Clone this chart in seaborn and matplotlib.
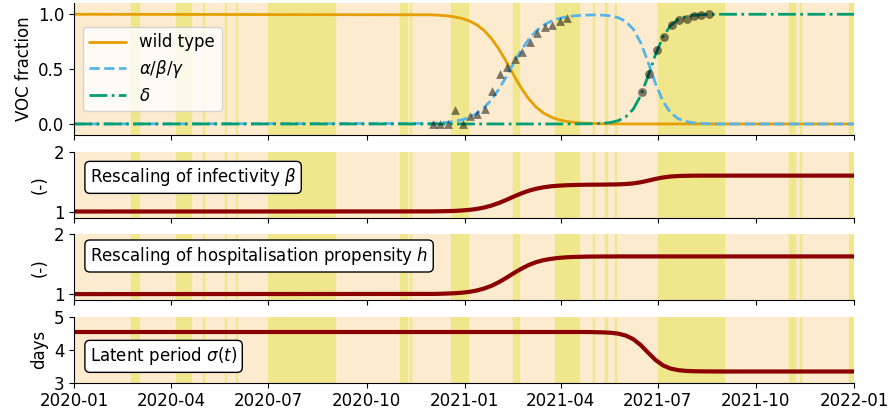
import numpy as np
import pandas as pd
import matplotlib
matplotlib.use("Agg")
import matplotlib.pyplot as plt
import matplotlib.dates as mdates
import seaborn as sns

# ---------------------------------------------------------------- data
# model output sampled weekly from 2020-12-01 to 2021-08-31
model_dates = pd.date_range("2020-12-01", periods=40, freq="7D")

wild_type = [0.995, 0.991, 0.986, 0.977, 0.963, 0.941, 0.906, 0.854, 0.781, 0.684,
             0.569, 0.445, 0.328, 0.229, 0.153, 0.099, 0.063, 0.039, 0.024, 0.015,
             0.009, 0.006, 0.003, 0.002, 0.001, 0.001, 0.0, 0.0, 0.0, 0.0,
             0.0, 0.0, 0.0, 0.0, 0.0, 0.0, 0.0, 0.0, 0.0, 0.0]
alpha_share = [0.005, 0.009, 0.014, 0.023, 0.037, 0.059, 0.094, 0.146, 0.219, 0.316,
               0.431, 0.555, 0.672, 0.771, 0.847, 0.901, 0.937, 0.961, 0.976, 0.985,
               0.990, 0.993, 0.994, 0.992, 0.985, 0.969, 0.935, 0.865, 0.742, 0.563,
               0.365, 0.205, 0.103, 0.049, 0.023, 0.010, 0.005, 0.002, 0.001, 0.0]
delta_share = [0.0, 0.0, 0.0, 0.0, 0.0, 0.0, 0.0, 0.0, 0.0, 0.0,
               0.0, 0.0, 0.0, 0.0, 0.0, 0.0, 0.0, 0.0, 0.0, 0.0,
               0.001, 0.001, 0.003, 0.006, 0.014, 0.030, 0.065, 0.134, 0.258, 0.437,
               0.635, 0.795, 0.897, 0.951, 0.978, 0.990, 0.995, 0.998, 0.999, 1.0]
infectivity = [1.002, 1.004, 1.006, 1.010, 1.017, 1.027, 1.042, 1.066, 1.099, 1.142,
               1.194, 1.250, 1.302, 1.347, 1.381, 1.405, 1.422, 1.432, 1.439, 1.443,
               1.446, 1.448, 1.449, 1.450, 1.452, 1.454, 1.460, 1.470, 1.489, 1.516,
               1.545, 1.569, 1.585, 1.593, 1.597, 1.599, 1.600, 1.600, 1.600, 1.600]
hospitalisation = [1.003, 1.005, 1.009, 1.014, 1.023, 1.037, 1.059, 1.092, 1.138, 1.199,
                   1.272, 1.350, 1.423, 1.486, 1.534, 1.568, 1.590, 1.605, 1.615, 1.621,
                   1.624, 1.627, 1.628, 1.629, 1.629, 1.630, 1.630, 1.630, 1.630, 1.630,
                   1.630, 1.630, 1.630, 1.630, 1.630, 1.630, 1.630, 1.630, 1.630, 1.630]
latent_period = [4.54, 4.54, 4.54, 4.54, 4.54, 4.54, 4.54, 4.54, 4.54, 4.54,
                 4.54, 4.54, 4.54, 4.54, 4.54, 4.54, 4.54, 4.54, 4.54, 4.54,
                 4.54, 4.54, 4.535, 4.529, 4.517, 4.490, 4.433, 4.324, 4.145, 3.912,
                 3.688, 3.525, 3.430, 3.382, 3.359, 3.349, 3.344, 3.342, 3.341, 3.340]

# values before and after the sampled window
start_date, end_date = "2020-01-01", "2022-01-01"
start_vals = {"wt": 1.0, "a": 0.0, "d": 0.0, "beta": 1.0, "h": 1.0, "sigma": 4.54}
end_vals = {"wt": 0.0, "a": 0.0, "d": 1.0, "beta": 1.6, "h": 1.63, "sigma": 3.34}

# weekly sequencing results
alpha_obs_dates = pd.date_range("2020-12-02", periods=19, freq="7D")
alpha_obs = [0.0, 0.0, 0.0, 0.13, 0.0, 0.075, 0.094, 0.136, 0.296, 0.457,
             0.515, 0.594, 0.655, 0.75, 0.827, 0.887, 0.903, 0.94, 0.97]
delta_obs_dates = pd.date_range("2021-06-16", periods=10, freq="7D")
delta_obs = [0.287, 0.457, 0.675, 0.79, 0.9, 0.95, 0.96, 0.985, 0.996, 1.0]

# school holidays and public holidays (start, end exclusive)
holidays = [("2020-02-23", "2020-03-02"), ("2020-04-05", "2020-04-19"),
            ("2020-05-01", "2020-05-02"), ("2020-05-21", "2020-05-22"),
            ("2020-06-01", "2020-06-02"), ("2020-07-01", "2020-09-01"),
            ("2020-11-01", "2020-11-08"), ("2020-11-11", "2020-11-12"),
            ("2020-12-19", "2021-01-04"), ("2021-02-15", "2021-02-21"),
            ("2021-03-27", "2021-04-18"), ("2021-05-01", "2021-05-02"),
            ("2021-05-13", "2021-05-14"), ("2021-05-22", "2021-05-23"),
            ("2021-07-01", "2021-09-01"), ("2021-11-01", "2021-11-07"),
            ("2021-11-11", "2021-11-12"), ("2021-12-27", "2022-01-09")]

# ---------------------------------------------------------------- helpers
def full_series(values, key):
    x = [pd.Timestamp(start_date)] + list(model_dates) + [pd.Timestamp(end_date)]
    y = [start_vals[key]] + list(values) + [end_vals[key]]
    return pd.DataFrame({"date": x, "value": y})


sns.set_style("ticks")
plt.rcParams["font.family"] = ["DejaVu Sans"]
plt.rcParams["mathtext.fontset"] = "dejavusans"
for k in ["text.color", "axes.labelcolor", "xtick.color", "ytick.color", "axes.edgecolor"]:
    plt.rcParams[k] = "black"

BG = "#FDEBD0"
HOL = "#F0E68C"
C_WT, C_A, C_D = "#E69F00", "#56B4E9", "#009E73"
DARKRED = "#8B0000"

fig = plt.figure(figsize=(8.93, 4.13), dpi=100)
gs = fig.add_gridspec(4, 1, height_ratios=[2, 1, 1, 1], left=0.0832, right=0.9563,
                      top=0.992, bottom=0.0734, hspace=0.204)
axes = [fig.add_subplot(gs[0])]
for i in range(1, 4):
    axes.append(fig.add_subplot(gs[i], sharex=axes[0]))

for ax in axes:
    ax.set_facecolor(BG)
    for s, e in holidays:
        ax.axvspan(pd.Timestamp(s), pd.Timestamp(e), color=HOL, lw=1, zorder=0)

# ---- VOC fractions
ax = axes[0]
d = full_series(wild_type, "wt")
sns.lineplot(data=d, x="date", y="value", ax=ax, color=C_WT, lw=2, label="wild type",
             estimator=None)
d = full_series(alpha_share, "a")
sns.lineplot(data=d, x="date", y="value", ax=ax, color=C_A, lw=2, linestyle="--",
             label=r"$\alpha/\beta/\gamma$", estimator=None)
d = full_series(delta_share, "d")
sns.lineplot(data=d, x="date", y="value", ax=ax, color=C_D, lw=2, linestyle="-.",
             label=r"$\delta$", estimator=None)
sns.scatterplot(x=alpha_obs_dates, y=alpha_obs, ax=ax, marker="^", color="k", alpha=0.5,
                s=40, linewidth=0, legend=False, zorder=5)
sns.scatterplot(x=delta_obs_dates, y=delta_obs, ax=ax, marker="o", color="k", alpha=0.5,
                s=40, linewidth=0, legend=False, zorder=5)
ax.set_ylim(-0.1, 1.1)
ax.set_yticks([0.0, 0.5, 1.0])
ax.set_ylabel("VOC fraction", fontsize=12)
ax.legend(loc="center left", fontsize=12, labelspacing=0.4, handlelength=2.2)

# ---- parameter rescalings
panels = [
    (axes[1], infectivity, "beta", "(-)", (0.9, 2.0), [1, 2],
     r"Rescaling of infectivity $\beta$", 0.61),
    (axes[2], hospitalisation, "h", "(-)", (0.9, 2.0), [1, 2],
     r"Rescaling of hospitalisation propensity $h$", 0.67),
    (axes[3], latent_period, "sigma", "days", (3.0, 5.0), [3, 4, 5],
     r"Latent period $\sigma(t)$", 0.40),
]
for ax, vals, key, ylab, ylim, yt, title, ypos in panels:
    d = full_series(vals, key)
    sns.lineplot(data=d, x="date", y="value", ax=ax, color=DARKRED, lw=3,
                 estimator=None)
    ax.set_ylim(*ylim)
    ax.set_yticks(yt)
    ax.set_ylabel(ylab, fontsize=12)
    ax.text(0.02, ypos, title, transform=ax.transAxes, fontsize=12, va="center",
            ha="left", bbox=dict(boxstyle="round", facecolor="white", edgecolor="black"))

for ax in axes:
    ax.set_xlabel("")
    ax.tick_params(labelsize=12)
    sns.despine(ax=ax)
for ax in axes[:-1]:
    ax.tick_params(labelbottom=False)

axes[-1].set_xlim(pd.Timestamp(start_date), pd.Timestamp(end_date))
axes[-1].xaxis.set_major_locator(mdates.MonthLocator(bymonth=[1, 4, 7, 10]))
axes[-1].xaxis.set_major_formatter(mdates.DateFormatter("%Y-%m"))

fig.savefig("out.png", dpi=100)
